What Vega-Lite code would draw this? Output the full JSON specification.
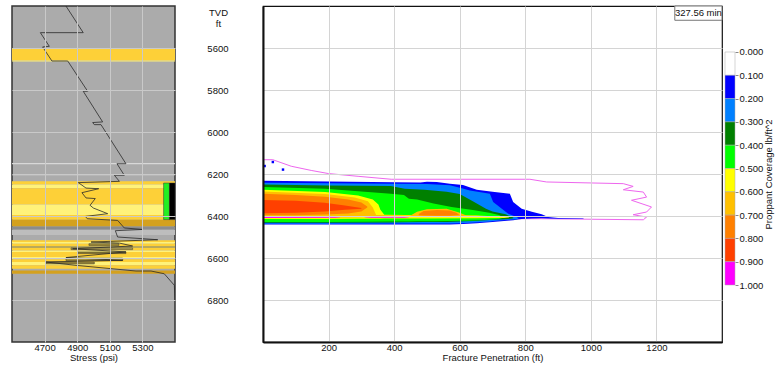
{
  "$schema": "https://vega.github.io/schema/vega-lite/v6.json",
  "padding": {"left": 11, "top": 4, "right": 5, "bottom": 0},
  "background": "white",
  "spacing": 30,
  "config": {
    "font": "Liberation Sans",
    "axis": {"labelFont": "Liberation Sans", "labelFontSize": 9.5, "labelColor": "#111", "titleFont": "Liberation Sans", "titleFontSize": 9.5, "titleFontWeight": "normal", "titleColor": "#111", "ticks": false, "tickSize": 0, "labelPadding": 0, "titlePadding": 1, "domain": false}
  },
  "datasets": {
    "bands": [
      {"d": 5600, "d2": 5603, "k": "ls"}, {"d": 5603, "d2": 5660, "k": "s"}, {"d": 5660, "d2": 5664, "k": "ls"},
      {"d": 6148, "d2": 6153, "k": "ln"}, {"d": 6203, "d2": 6206, "k": "ln"},
      {"d": 6235, "d2": 6250, "k": "s"}, {"d": 6250, "d2": 6268, "k": "ls"}, {"d": 6268, "d2": 6345, "k": "s"},
      {"d": 6345, "d2": 6395, "k": "ls"}, {"d": 6395, "d2": 6418, "k": "s"}, {"d": 6418, "d2": 6450, "k": "ds"},
      {"d": 6450, "d2": 6465, "k": "dg"}, {"d": 6465, "d2": 6490, "k": "lg"},
      {"d": 6516, "d2": 6524, "k": "s"}, {"d": 6524, "d2": 6532, "k": "ls"}, {"d": 6532, "d2": 6543, "k": "s"},
      {"d": 6543, "d2": 6552, "k": "gs"}, {"d": 6552, "d2": 6564, "k": "s"}, {"d": 6564, "d2": 6571, "k": "ls"},
      {"d": 6571, "d2": 6595, "k": "s"}, {"d": 6595, "d2": 6606, "k": "ls"}, {"d": 6606, "d2": 6619, "k": "s"},
      {"d": 6619, "d2": 6635, "k": "ls"}, {"d": 6635, "d2": 6651, "k": "s"}, {"d": 6659, "d2": 6675, "k": "ds"}
    ],
    "steps": [
      {"s": 4972, "s2": 5156, "d": 6532, "d2": 6540, "k": "ol2"},
      {"s": 4862, "s2": 5240, "d": 6552, "d2": 6560, "k": "gs"},
      {"s": 4903, "s2": 5199, "d": 6571, "d2": 6579, "k": "ol"},
      {"s": 4831, "s2": 5179, "d": 6600, "d2": 6612, "k": "ol2"},
      {"s": 4709, "s2": 5005, "d": 6619, "d2": 6628, "k": "ol2"},
      {"s": 5430, "s2": 5466, "d": 6243, "d2": 6417, "k": "pg"},
      {"s": 5466, "s2": 5500, "d": 6243, "d2": 6417, "k": "pb"}
    ],
    "stress": [
      {"i": 1, "s": 4831, "d": 5400}, {"i": 2, "s": 4937, "d": 5527}, {"i": 3, "s": 4674, "d": 5527},
      {"i": 4, "s": 4729, "d": 5592}, {"i": 5, "s": 4688, "d": 5595}, {"i": 6, "s": 4745, "d": 5662},
      {"i": 7, "s": 4842, "d": 5662}, {"i": 8, "s": 4964, "d": 5806}, {"i": 9, "s": 4937, "d": 5806},
      {"i": 10, "s": 5056, "d": 5952}, {"i": 11, "s": 4995, "d": 5955}, {"i": 12, "s": 5005, "d": 5965},
      {"i": 13, "s": 5046, "d": 5965}, {"i": 14, "s": 5199, "d": 6151}, {"i": 15, "s": 5144, "d": 6151},
      {"i": 16, "s": 5189, "d": 6206}, {"i": 17, "s": 5128, "d": 6206}, {"i": 18, "s": 5159, "d": 6235},
      {"i": 19, "s": 4907, "d": 6241}, {"i": 20, "s": 4954, "d": 6267}, {"i": 21, "s": 5032, "d": 6270},
      {"i": 22, "s": 4929, "d": 6289}, {"i": 23, "s": 4954, "d": 6314}, {"i": 24, "s": 5011, "d": 6317},
      {"i": 25, "s": 4979, "d": 6349}, {"i": 26, "s": 4999, "d": 6362}, {"i": 27, "s": 5087, "d": 6389},
      {"i": 28, "s": 4950, "d": 6402}, {"i": 29, "s": 4962, "d": 6413}, {"i": 30, "s": 5148, "d": 6421},
      {"i": 31, "s": 5189, "d": 6457}, {"i": 32, "s": 5302, "d": 6464}, {"i": 33, "s": 5134, "d": 6470},
      {"i": 34, "s": 5148, "d": 6500}, {"i": 35, "s": 5394, "d": 6513}, {"i": 36, "s": 4985, "d": 6524},
      {"i": 37, "s": 5159, "d": 6529}, {"i": 38, "s": 5240, "d": 6543}, {"i": 39, "s": 4872, "d": 6556},
      {"i": 40, "s": 5199, "d": 6571}, {"i": 41, "s": 4831, "d": 6598}, {"i": 42, "s": 5179, "d": 6611},
      {"i": 43, "s": 4709, "d": 6619}, {"i": 44, "s": 4893, "d": 6635}, {"i": 45, "s": 5261, "d": 6662},
      {"i": 46, "s": 5353, "d": 6662}, {"i": 47, "s": 5434, "d": 6675}, {"i": 48, "s": 5496, "d": 6730},
      {"i": 49, "s": 5500, "d": 6800}
    ],
    "outline": [
      {"i": 0, "p": 0, "d": 6132}, {"i": 1, "p": 30, "d": 6132}, {"i": 2, "p": 86, "d": 6163},
      {"i": 3, "p": 147, "d": 6183}, {"i": 4, "p": 200, "d": 6198}, {"i": 5, "p": 290, "d": 6211},
      {"i": 6, "p": 391, "d": 6225}, {"i": 7, "p": 814, "d": 6225}, {"i": 8, "p": 865, "d": 6238},
      {"i": 9, "p": 1099, "d": 6246}, {"i": 10, "p": 1129, "d": 6259}, {"i": 11, "p": 1099, "d": 6275},
      {"i": 12, "p": 1160, "d": 6286}, {"i": 13, "p": 1170, "d": 6310}, {"i": 14, "p": 1124, "d": 6325},
      {"i": 15, "p": 1185, "d": 6357}, {"i": 16, "p": 1170, "d": 6381}, {"i": 17, "p": 1129, "d": 6394},
      {"i": 18, "p": 1170, "d": 6405}, {"i": 19, "p": 1160, "d": 6418}, {"i": 20, "p": 845, "d": 6413},
      {"i": 21, "p": 780, "d": 6413}
    ],
    "cov": [
      {"lvl": 0.15, "part": "a", "p": 0, "d": 6232, "d2": 6441}, {"lvl": 0.15, "part": "a", "p": 200, "d": 6236, "d2": 6441},
      {"lvl": 0.15, "part": "a", "p": 400, "d": 6239, "d2": 6440}, {"lvl": 0.15, "part": "a", "p": 480, "d": 6241, "d2": 6440},
      {"lvl": 0.15, "part": "a", "p": 500, "d": 6237, "d2": 6440}, {"lvl": 0.15, "part": "a", "p": 530, "d": 6238, "d2": 6440},
      {"lvl": 0.15, "part": "a", "p": 570, "d": 6246, "d2": 6440}, {"lvl": 0.15, "part": "a", "p": 610, "d": 6252, "d2": 6438},
      {"lvl": 0.15, "part": "a", "p": 652, "d": 6275, "d2": 6434}, {"lvl": 0.15, "part": "a", "p": 700, "d": 6285, "d2": 6428},
      {"lvl": 0.15, "part": "a", "p": 753, "d": 6294, "d2": 6422}, {"lvl": 0.15, "part": "a", "p": 763, "d": 6333, "d2": 6420},
      {"lvl": 0.15, "part": "a", "p": 789, "d": 6365, "d2": 6414}, {"lvl": 0.15, "part": "a", "p": 820, "d": 6380, "d2": 6412},
      {"lvl": 0.15, "part": "a", "p": 850, "d": 6392, "d2": 6411}, {"lvl": 0.15, "part": "a", "p": 870, "d": 6405, "d2": 6412},
      {"lvl": 0.15, "part": "a", "p": 900, "d": 6409, "d2": 6413}, {"lvl": 0.15, "part": "a", "p": 975, "d": 6411, "d2": 6413},
      {"lvl": 0.15, "part": "a", "p": 980, "d": 6412, "d2": 6412},

      {"lvl": 0.25, "part": "a", "p": 0, "d": 6242, "d2": 6437}, {"lvl": 0.25, "part": "a", "p": 200, "d": 6244, "d2": 6437},
      {"lvl": 0.25, "part": "a", "p": 400, "d": 6246, "d2": 6436}, {"lvl": 0.25, "part": "a", "p": 500, "d": 6248, "d2": 6436},
      {"lvl": 0.25, "part": "a", "p": 570, "d": 6254, "d2": 6436}, {"lvl": 0.25, "part": "a", "p": 601, "d": 6265, "d2": 6434},
      {"lvl": 0.25, "part": "a", "p": 631, "d": 6278, "d2": 6432}, {"lvl": 0.25, "part": "a", "p": 692, "d": 6294, "d2": 6426},
      {"lvl": 0.25, "part": "a", "p": 702, "d": 6333, "d2": 6424}, {"lvl": 0.25, "part": "a", "p": 748, "d": 6389, "d2": 6418},
      {"lvl": 0.25, "part": "a", "p": 773, "d": 6405, "d2": 6415}, {"lvl": 0.25, "part": "a", "p": 780, "d": 6411, "d2": 6411},

      {"lvl": 0.35, "part": "a", "p": 0, "d": 6250, "d2": 6432}, {"lvl": 0.35, "part": "a", "p": 200, "d": 6255, "d2": 6432},
      {"lvl": 0.35, "part": "a", "p": 390, "d": 6257, "d2": 6431}, {"lvl": 0.35, "part": "a", "p": 432, "d": 6270, "d2": 6430},
      {"lvl": 0.35, "part": "a", "p": 493, "d": 6275, "d2": 6429}, {"lvl": 0.35, "part": "a", "p": 560, "d": 6285, "d2": 6428},
      {"lvl": 0.35, "part": "a", "p": 600, "d": 6295, "d2": 6426}, {"lvl": 0.35, "part": "a", "p": 640, "d": 6330, "d2": 6424},
      {"lvl": 0.35, "part": "a", "p": 680, "d": 6365, "d2": 6420}, {"lvl": 0.35, "part": "a", "p": 700, "d": 6378, "d2": 6418},
      {"lvl": 0.35, "part": "a", "p": 740, "d": 6392, "d2": 6416}, {"lvl": 0.35, "part": "a", "p": 760, "d": 6405, "d2": 6412},
      {"lvl": 0.35, "part": "a", "p": 765, "d": 6410, "d2": 6410},

      {"lvl": 0.45, "part": "a", "p": 0, "d": 6262, "d2": 6428}, {"lvl": 0.45, "part": "a", "p": 190, "d": 6270, "d2": 6428},
      {"lvl": 0.45, "part": "a", "p": 320, "d": 6286, "d2": 6427}, {"lvl": 0.45, "part": "a", "p": 390, "d": 6294, "d2": 6426},
      {"lvl": 0.45, "part": "a", "p": 430, "d": 6300, "d2": 6426}, {"lvl": 0.45, "part": "a", "p": 445, "d": 6318, "d2": 6426},
      {"lvl": 0.45, "part": "a", "p": 470, "d": 6322, "d2": 6425}, {"lvl": 0.45, "part": "a", "p": 520, "d": 6340, "d2": 6425},
      {"lvl": 0.45, "part": "a", "p": 575, "d": 6357, "d2": 6424}, {"lvl": 0.45, "part": "a", "p": 640, "d": 6372, "d2": 6422},
      {"lvl": 0.45, "part": "a", "p": 690, "d": 6385, "d2": 6418}, {"lvl": 0.45, "part": "a", "p": 720, "d": 6395, "d2": 6414},
      {"lvl": 0.45, "part": "a", "p": 730, "d": 6405, "d2": 6410},

      {"lvl": 0.55, "part": "a", "p": 0, "d": 6275, "d2": 6414}, {"lvl": 0.55, "part": "a", "p": 190, "d": 6286, "d2": 6414},
      {"lvl": 0.55, "part": "a", "p": 290, "d": 6302, "d2": 6413}, {"lvl": 0.55, "part": "a", "p": 335, "d": 6322, "d2": 6413},
      {"lvl": 0.55, "part": "a", "p": 352, "d": 6345, "d2": 6413}, {"lvl": 0.55, "part": "a", "p": 358, "d": 6370, "d2": 6413},
      {"lvl": 0.55, "part": "a", "p": 370, "d": 6394, "d2": 6412}, {"lvl": 0.55, "part": "a", "p": 500, "d": 6396, "d2": 6412},
      {"lvl": 0.55, "part": "a", "p": 650, "d": 6398, "d2": 6411}, {"lvl": 0.55, "part": "a", "p": 720, "d": 6402, "d2": 6410},
      {"lvl": 0.55, "part": "a", "p": 750, "d": 6407, "d2": 6409},

      {"lvl": 0.65, "part": "a", "p": 0, "d": 6283, "d2": 6408}, {"lvl": 0.65, "part": "a", "p": 190, "d": 6295, "d2": 6408},
      {"lvl": 0.65, "part": "a", "p": 280, "d": 6312, "d2": 6407}, {"lvl": 0.65, "part": "a", "p": 320, "d": 6330, "d2": 6406},
      {"lvl": 0.65, "part": "a", "p": 335, "d": 6360, "d2": 6405}, {"lvl": 0.65, "part": "a", "p": 345, "d": 6395, "d2": 6404},
      {"lvl": 0.65, "part": "a", "p": 450, "d": 6398, "d2": 6404}, {"lvl": 0.65, "part": "a", "p": 470, "d": 6380, "d2": 6404},
      {"lvl": 0.65, "part": "a", "p": 500, "d": 6368, "d2": 6404}, {"lvl": 0.65, "part": "a", "p": 560, "d": 6366, "d2": 6404},
      {"lvl": 0.65, "part": "a", "p": 600, "d": 6385, "d2": 6404}, {"lvl": 0.65, "part": "a", "p": 620, "d": 6398, "d2": 6403},
      {"lvl": 0.65, "part": "a", "p": 700, "d": 6401, "d2": 6402},

      {"lvl": 0.75, "part": "a", "p": 0, "d": 6294, "d2": 6397}, {"lvl": 0.75, "part": "a", "p": 100, "d": 6300, "d2": 6396},
      {"lvl": 0.75, "part": "a", "p": 190, "d": 6308, "d2": 6393}, {"lvl": 0.75, "part": "a", "p": 260, "d": 6322, "d2": 6388},
      {"lvl": 0.75, "part": "a", "p": 300, "d": 6336, "d2": 6378}, {"lvl": 0.75, "part": "a", "p": 318, "d": 6355, "d2": 6360},
      {"lvl": 0.75, "part": "b", "p": 475, "d": 6390, "d2": 6396}, {"lvl": 0.75, "part": "b", "p": 490, "d": 6376, "d2": 6398},
      {"lvl": 0.75, "part": "b", "p": 530, "d": 6372, "d2": 6399}, {"lvl": 0.75, "part": "b", "p": 570, "d": 6374, "d2": 6399},
      {"lvl": 0.75, "part": "b", "p": 590, "d": 6385, "d2": 6397}, {"lvl": 0.75, "part": "b", "p": 598, "d": 6394, "d2": 6395},

      {"lvl": 0.85, "part": "a", "p": 0, "d": 6324, "d2": 6387}, {"lvl": 0.85, "part": "a", "p": 100, "d": 6327, "d2": 6385},
      {"lvl": 0.85, "part": "a", "p": 188, "d": 6337, "d2": 6378}, {"lvl": 0.85, "part": "a", "p": 250, "d": 6350, "d2": 6370},
      {"lvl": 0.85, "part": "a", "p": 300, "d": 6362, "d2": 6365},

      {"lvl": 0.95, "part": "a", "p": 0, "d": 6404, "d2": 6409}, {"lvl": 0.95, "part": "a", "p": 220, "d": 6405, "d2": 6408},
      {"lvl": 0.95, "part": "a", "p": 235, "d": 6406, "d2": 6407},
      {"lvl": 0.95, "part": "b", "p": 310, "d": 6406, "d2": 6407}, {"lvl": 0.95, "part": "b", "p": 330, "d": 6405, "d2": 6408},
      {"lvl": 0.95, "part": "b", "p": 430, "d": 6405, "d2": 6408}, {"lvl": 0.95, "part": "b", "p": 445, "d": 6406, "d2": 6407}
    ],
    "specks": [{"p": 5, "d": 6162}, {"p": 30, "d": 6143}, {"p": 61, "d": 6179}],
    "stamp": [{"p": 1256, "p2": 1400, "d": 5400, "d2": 5468, "pc": 1328, "dc": 5434, "label": "327.56 min"}],
    "bins": [
      {"lo": 0.0, "hi": 0.1, "lvl": 0.05}, {"lo": 0.1, "hi": 0.2, "lvl": 0.15}, {"lo": 0.2, "hi": 0.3, "lvl": 0.25},
      {"lo": 0.3, "hi": 0.4, "lvl": 0.35}, {"lo": 0.4, "hi": 0.5, "lvl": 0.45}, {"lo": 0.5, "hi": 0.6, "lvl": 0.55},
      {"lo": 0.6, "hi": 0.7, "lvl": 0.65}, {"lo": 0.7, "hi": 0.8, "lvl": 0.75}, {"lo": 0.8, "hi": 0.9, "lvl": 0.85},
      {"lo": 0.9, "hi": 1.0, "lvl": 0.95}
    ]
  },
  "hconcat": [
    {
      "width": 163,
      "height": 336,
      "view": {"fill": "#ababab", "stroke": "#333333", "strokeWidth": 1.5},
      "encoding": {
        "y": {"field": "d", "type": "quantitative", "scale": {"domain": [5400, 7000], "reverse": true, "nice": false},
          "axis": {"labels": false, "title": null, "grid": true, "gridColor": "#c9c9c9", "values": [5600, 5800, 6000, 6200, 6400, 6600, 6800], "zindex": 1}}
      },
      "layer": [
        {
          "data": {"name": "bands"},
          "mark": {"type": "rect"},
          "encoding": {
            "y2": {"field": "d2"},
            "fill": {"field": "k", "type": "nominal", "legend": null,
              "scale": {"domain": ["s", "ls", "ds", "dg", "lg", "ln", "gs", "ol", "ol2", "pg", "pb"],
                "range": ["#fdd038", "#fff27a", "#d4a11e", "#8c8c8c", "#bdbdbd", "#d8d8d8", "#b9a95a", "#8a7a30", "#a8943a", "#22ee22", "#000000"]}}
          }
        },
        {
          "data": {"name": "steps"},
          "mark": {"type": "rect", "stroke": "#333333", "strokeWidth": 0.5},
          "encoding": {
            "x": {"field": "s", "type": "quantitative", "scale": {"domain": [4500, 5500], "nice": false},
              "axis": {"values": [4700, 4900, 5100, 5300], "format": "d", "title": "Stress (psi)", "grid": true, "gridColor": "#c9c9c9", "zindex": 1}},
            "x2": {"field": "s2"},
            "y2": {"field": "d2"},
            "fill": {"field": "k", "type": "nominal", "legend": null,
              "scale": {"domain": ["s", "ls", "ds", "dg", "lg", "ln", "gs", "ol", "ol2", "pg", "pb"],
                "range": ["#fdd038", "#fff27a", "#d4a11e", "#8c8c8c", "#bdbdbd", "#d8d8d8", "#b9a95a", "#8a7a30", "#a8943a", "#22ee22", "#000000"]}}
          }
        },
        {
          "data": {"name": "stress"},
          "mark": {"type": "line", "color": "#2a2a2a", "strokeWidth": 0.8, "clip": true},
          "encoding": {
            "x": {"field": "s", "type": "quantitative", "scale": {"domain": [4500, 5500], "nice": false},
              "axis": {"values": [4700, 4900, 5100, 5300], "format": "d", "title": "Stress (psi)", "grid": true, "gridColor": "#c9c9c9", "zindex": 1}},
            "order": {"field": "i", "type": "quantitative"}
          }
        }
      ]
    },
    {
      "spacing": 0,
      "hconcat": [
        {
          "width": 459,
          "height": 336,
          "view": {"stroke": "#111111", "strokeWidth": 1.2},
          "encoding": {
            "x": {"field": "p", "type": "quantitative", "scale": {"domain": [0, 1400], "nice": false},
              "axis": {"values": [200, 400, 600, 800, 1000, 1200], "format": "d", "title": "Fracture Penetration (ft)", "grid": true, "gridColor": "#d4d4d4", "zindex": 1, "domain": true, "domainColor": "#111111", "domainWidth": 2}},
            "y": {"field": "d", "type": "quantitative", "scale": {"domain": [5400, 7000], "reverse": true, "nice": false},
              "axis": {"values": [5600, 5800, 6000, 6200, 6400, 6600, 6800], "format": "d", "labelPadding": 35, "title": ["TVD", "ft"], "titleAngle": 0, "titleAlign": "center", "titleBaseline": "top", "titleX": -45, "titleY": 1, "titleLineHeight": 11, "grid": true, "gridColor": "#d4d4d4", "zindex": 1, "domain": true, "domainColor": "#111111", "domainWidth": 2}},
            "color": {"field": "lvl", "type": "quantitative",
              "scale": {"type": "quantize", "domain": [0, 1], "range": ["#ffffff", "#0000ff", "#0080ff", "#008000", "#00ff00", "#ffff00", "#ffc000", "#ff8000", "#ff4000", "#ff00ff"]},
              "legend": null}
          },
          "layer": [
            {
              "data": {"name": "outline"},
              "mark": {"type": "line", "strokeWidth": 1},
              "encoding": {"color": {"value": "#ee66ee"}, "order": {"field": "i", "type": "quantitative"}}
            },
            {"data": {"name": "cov"}, "transform": [{"filter": "datum.lvl == 0.15"}], "mark": {"type": "area"}, "encoding": {"y2": {"field": "d2"}, "detail": {"field": "part"}}},
            {"data": {"name": "cov"}, "transform": [{"filter": "datum.lvl == 0.25"}], "mark": {"type": "area"}, "encoding": {"y2": {"field": "d2"}, "detail": {"field": "part"}}},
            {"data": {"name": "cov"}, "transform": [{"filter": "datum.lvl == 0.35"}], "mark": {"type": "area"}, "encoding": {"y2": {"field": "d2"}, "detail": {"field": "part"}}},
            {"data": {"name": "cov"}, "transform": [{"filter": "datum.lvl == 0.45"}], "mark": {"type": "area"}, "encoding": {"y2": {"field": "d2"}, "detail": {"field": "part"}}},
            {"data": {"name": "cov"}, "transform": [{"filter": "datum.lvl == 0.55"}], "mark": {"type": "area"}, "encoding": {"y2": {"field": "d2"}, "detail": {"field": "part"}}},
            {"data": {"name": "cov"}, "transform": [{"filter": "datum.lvl == 0.65"}], "mark": {"type": "area"}, "encoding": {"y2": {"field": "d2"}, "detail": {"field": "part"}}},
            {"data": {"name": "cov"}, "transform": [{"filter": "datum.lvl == 0.75"}], "mark": {"type": "area"}, "encoding": {"y2": {"field": "d2"}, "detail": {"field": "part"}}},
            {"data": {"name": "cov"}, "transform": [{"filter": "datum.lvl == 0.85"}], "mark": {"type": "area"}, "encoding": {"y2": {"field": "d2"}, "detail": {"field": "part"}}},
            {"data": {"name": "cov"}, "transform": [{"filter": "datum.lvl == 0.95"}], "mark": {"type": "area"}, "encoding": {"y2": {"field": "d2"}, "detail": {"field": "part"}}},
            {
              "data": {"name": "specks"},
              "mark": {"type": "square", "size": 6, "filled": true, "opacity": 1},
              "encoding": {"color": {"value": "#0000ff"}}
            },
            {
              "data": {"name": "stamp"},
              "mark": {"type": "rect", "stroke": "#777777", "strokeWidth": 1},
              "encoding": {"x2": {"field": "p2"}, "y2": {"field": "d2"}, "color": {"value": "#ffffff"}}
            },
            {
              "data": {"name": "stamp"},
              "mark": {"type": "text", "fontSize": 9.5, "align": "center", "baseline": "middle", "font": "Liberation Sans"},
              "encoding": {"x": {"field": "pc", "type": "quantitative"}, "y": {"field": "dc", "type": "quantitative"}, "text": {"field": "label"}, "color": {"value": "#111111"}}
            }
          ]
        },
        {
          "width": 10,
          "height": 336,
          "view": {"stroke": null},
          "data": {"name": "bins"},
          "mark": {"type": "rect", "stroke": "#aaaaaa", "strokeWidth": 0.5},
          "encoding": {
            "y": {"field": "lo", "type": "quantitative", "scale": {"domain": [-0.1974, 1.2446], "reverse": true, "nice": false, "zero": false},
              "axis": {"orient": "right", "values": [0, 0.1, 0.2, 0.3, 0.4, 0.5, 0.6, 0.7, 0.8, 0.9, 1], "format": ".3f", "ticks": true, "tickSize": 3, "tickColor": "#888888", "labelPadding": 1, "title": "Proppant Coverage lb/ft^2", "titleAngle": 270, "titleBaseline": "top", "titleAlign": "center", "titlePadding": 1, "grid": false, "domain": false}},
            "y2": {"field": "hi"},
            "color": {"field": "lvl", "type": "quantitative",
              "scale": {"type": "quantize", "domain": [0, 1], "range": ["#ffffff", "#0000ff", "#0080ff", "#008000", "#00ff00", "#ffff00", "#ffc000", "#ff8000", "#ff4000", "#ff00ff"]},
              "legend": null}
          }
        }
      ]
    }
  ]
}
